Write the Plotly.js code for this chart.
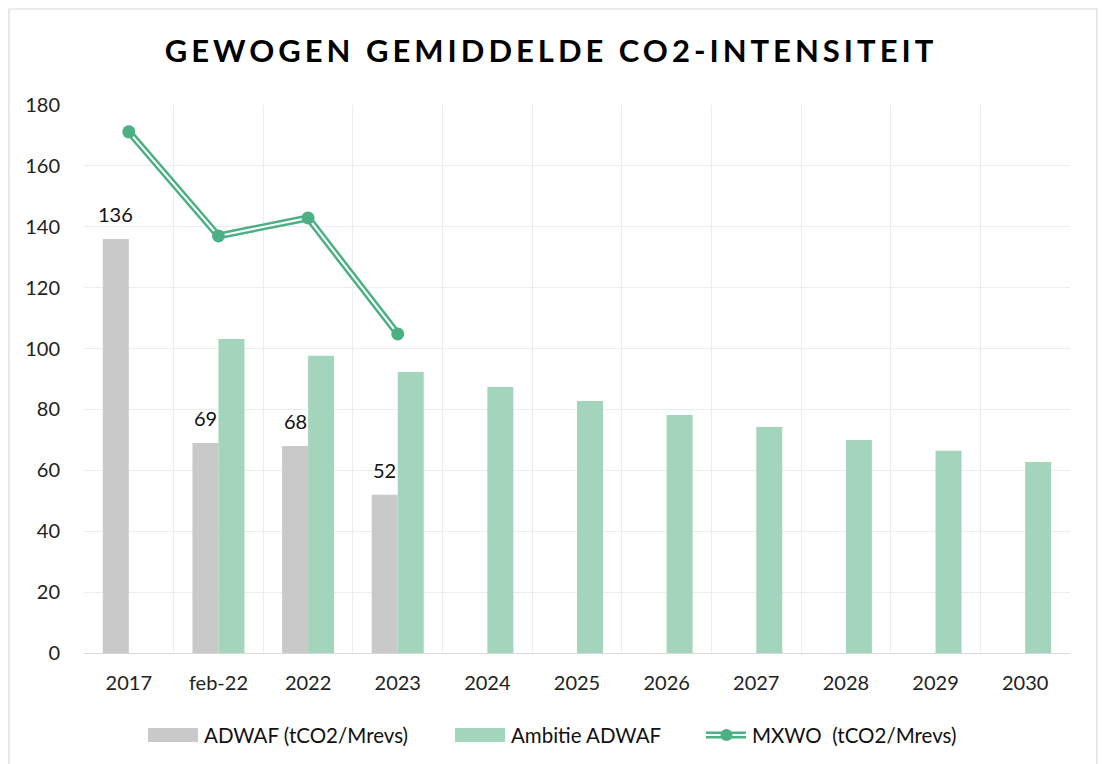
<!DOCTYPE html>
<html>
<head>
<meta charset="utf-8">
<script src="https://cdn.plot.ly/plotly-3.0.1.min.js"></script>
<style>
html,body{margin:0;padding:0;background:#fff;}
#chart{width:1102px;height:764px;}
.gtitle{letter-spacing:4px;}
</style>
</head>
<body>
<div id="chart"></div>
<script>
const categories = ["2017","feb-22","2022","2023","2024","2025","2026","2027","2028","2029","2030"];
const adwaf = [136, 69, 68, 52, null, null, null, null, null, null, null];
const ambitie = [null, 103.1, 97.6, 92.3, 87.4, 82.8, 78.2, 74.2, 70.0, 66.4, 62.7];
const mxwoCats = ["2017","feb-22","2022","2023"];
const mxwo = [171.2, 137.0, 142.9, 104.8];
const yTicks = [0,20,40,60,80,100,120,140,160,180];
const legendNames = ["ADWAF (tCO2/Mrevs)", "Ambitie ADWAF", "MXWO  (tCO2/Mrevs)"];

const GRAY = "#c9c9c9", LGREEN = "#a2d5bb", DGREEN = "#4cb084";
const FONT = "Lato, 'Open Sans', sans-serif";

const traces = [
  {type:"bar", x:categories, y:adwaf, name:legendNames[0], marker:{color:GRAY}, showlegend:false, hoverinfo:"y"},
  {type:"bar", x:categories, y:ambitie, name:legendNames[1], marker:{color:LGREEN}, showlegend:false, hoverinfo:"y"},
  {type:"scatter", mode:"lines", x:mxwoCats, y:mxwo, line:{color:DGREEN, width:7}, showlegend:false, hoverinfo:"skip"},
  {type:"scatter", mode:"lines", x:mxwoCats, y:mxwo, line:{color:"#ffffff", width:2}, showlegend:false, hoverinfo:"skip"},
  {type:"scatter", mode:"markers", x:mxwoCats, y:mxwo, name:legendNames[2], marker:{color:DGREEN, size:13}, showlegend:false, hoverinfo:"y"}
];

// data labels on gray bars (x given as category index)
const annotations = [];
categories.forEach((c,i)=>{
  if (adwaf[i] != null) {
    annotations.push({x:i, y:adwaf[i], xref:"x", yref:"y", text:String(adwaf[i]), showarrow:false,
      xshift:-13, yshift:25, font:{family:FONT, size:20, color:"#111"}});
  }
});

// custom legend
const L = 84, W = 986, B = 653, H = 548;
const px = v => (v - L) / W;
const py = v => (B - v) / H;
const shapes = [
  {type:"rect", xref:"paper", yref:"paper", x0:px(9), x1:px(1097), y0:py(775), y1:py(9), line:{color:"#d9d9d9", width:1.2}, fillcolor:"rgba(0,0,0,0)", layer:"below"},
  {type:"rect", xref:"paper", yref:"paper", x0:px(148), x1:px(198), y0:py(742), y1:py(728), line:{width:0}, fillcolor:GRAY},
  {type:"rect", xref:"paper", yref:"paper", x0:px(455), x1:px(505), y0:py(742), y1:py(728), line:{width:0}, fillcolor:LGREEN},
  {type:"line", xref:"paper", yref:"paper", x0:px(706), x1:px(746), y0:py(735), y1:py(735), line:{color:DGREEN, width:7}},
  {type:"line", xref:"paper", yref:"paper", x0:px(706), x1:px(746), y0:py(735), y1:py(735), line:{color:"#ffffff", width:2}},
  {type:"circle", xref:"paper", yref:"paper", x0:px(720.5), x1:px(732.5), y0:py(741), y1:py(729), line:{width:0}, fillcolor:DGREEN}
];
[[202,legendNames[0]],[509,legendNames[1]],[750,legendNames[2]]].forEach(([xp,t])=>{
  annotations.push({xref:"paper", yref:"paper", x:px(xp), y:py(735), xanchor:"left", yanchor:"middle",
    text:t, showarrow:false, font:{family:FONT, size:20.5, color:"#111"}});
});

const layout = {
  width:1102, height:764,
  margin:{l:84, r:32, t:105, b:111},
  paper_bgcolor:"#fff", plot_bgcolor:"#fff",
  title:{text:"<b>GEWOGEN GEMIDDELDE CO2-INTENSITEIT</b>", x:0.5, xanchor:"center", y:0.933, yanchor:"middle",
    font:{family:FONT, size:31, color:"#000"}},
  barmode:"group", bargap:0.42, bargroupgap:0,
  showlegend:false,
  font:{family:FONT, size:18, color:"#222"},
  xaxis:{type:"category", categoryorder:"array", categoryarray:categories, range:[-0.5, categories.length-0.5],
    autorange:false, tickson:"boundaries",
    showgrid:true, gridcolor:"#ececec", gridwidth:1, ticks:"", ticklabelstandoff:12,
    tickangle:0, showline:true, linecolor:"#d9d9d9", linewidth:1, tickfont:{family:FONT, size:20, color:"#222"}, fixedrange:true},
  yaxis:{range:[0,180], autorange:false, tickvals:yTicks, showgrid:true, gridcolor:"#ececec", gridwidth:1, zeroline:false,
    ticks:"outside", ticklen:19, tickcolor:"rgba(0,0,0,0)", showline:false,
    tickfont:{family:FONT, size:20, color:"#222"}, fixedrange:true},
  annotations:annotations,
  shapes:shapes
};

Plotly.newPlot("chart", traces, layout, {displayModeBar:false, staticPlot:true});
</script>
</body>
</html>
